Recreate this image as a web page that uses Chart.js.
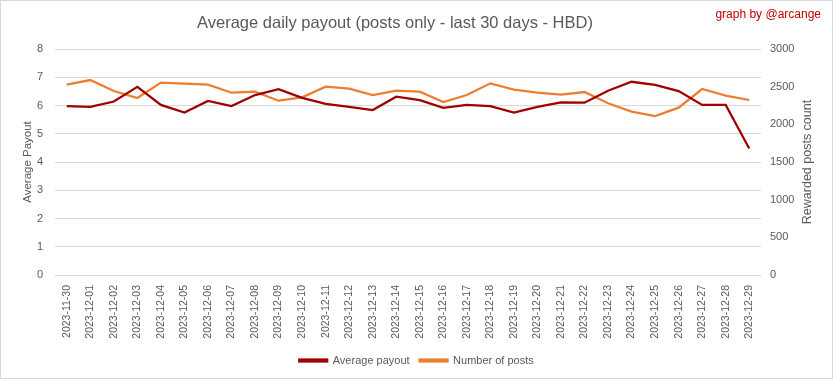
<!DOCTYPE html>
<html>
<head>
<meta charset="utf-8">
<script src="https://cdn.jsdelivr.net/npm/chart.js@4.4.1/dist/chart.umd.min.js"></script>
<style>
  html, body { margin: 0; padding: 0; background: #fff; }
  #wrap { width: 833px; height: 379px; }
</style>
</head>
<body>
<div id="wrap"><canvas id="payoutChart" width="833" height="379"></canvas></div>
<script>
// data
var days = ["2023-11-30","2023-12-01","2023-12-02","2023-12-03","2023-12-04","2023-12-05",
  "2023-12-06","2023-12-07","2023-12-08","2023-12-09","2023-12-10","2023-12-11","2023-12-12",
  "2023-12-13","2023-12-14","2023-12-15","2023-12-16","2023-12-17","2023-12-18","2023-12-19",
  "2023-12-20","2023-12-21","2023-12-22","2023-12-23","2023-12-24","2023-12-25","2023-12-26",
  "2023-12-27","2023-12-28","2023-12-29"];
var avgPayout = [5.98,5.95,6.14,6.66,6.02,5.75,6.16,5.98,6.37,6.58,6.27,6.06,5.95,5.84,6.31,
  6.19,5.92,6.02,5.98,5.75,5.95,6.11,6.10,6.52,6.84,6.73,6.51,6.02,6.02,4.48];
var postCount = [2526,2588,2442,2349,2553,2540,2526,2420,2433,2314,2358,2500,2473,2389,2447,
  2433,2296,2389,2544,2460,2420,2393,2429,2279,2168,2110,2221,2469,2380,2323];
var leftTicks = [0,1,2,3,4,5,6,7,8];
var rightTicks = [0,500,1000,1500,2000,2500,3000];

var grey = '#595959';
var fam = '"Liberation Sans", Arial, sans-serif';

// frame, titles and right axis title drawn on the canvas
var frame = {
  id: 'frame',
  beforeDraw: function(chart){
    var c = chart.ctx;
    c.save();
    c.fillStyle = '#fff';
    c.fillRect(0, 0, chart.width, chart.height);
    c.strokeStyle = '#d9d9d9';
    c.lineWidth = 1;
    c.strokeRect(0.5, 0.5, chart.width - 1, chart.height - 1);
    c.restore();
  },
  afterDraw: function(chart){
    var c = chart.ctx;
    c.save();
    c.textBaseline = 'middle';
    c.fillStyle = grey;
    c.font = '16.5px ' + fam;
    c.textAlign = 'center';
    c.fillText('Average daily payout (posts only - last 30 days - HBD)', 395, 23);
    c.fillStyle = '#c00000';
    c.font = '12px ' + fam;
    c.textAlign = 'right';
    c.fillText('graph by @arcange', 821, 15);
    // right axis title, reading bottom to top
    c.fillStyle = grey;
    c.font = '12.5px ' + fam;
    c.textAlign = 'center';
    c.translate(808, 162);
    c.rotate(-Math.PI / 2);
    c.fillText('Rewarded posts count', 0, 0);
    c.restore();
  }
};

var ctx = document.getElementById('payoutChart').getContext('2d');
var myChart = new Chart(ctx, {
  type: 'line',
  data: {
    labels: days,
    datasets: [{
      label: 'Average payout',
      data: avgPayout,
      yAxisID: 'y',
      borderColor: '#a00000',
      backgroundColor: '#a00000',
      borderWidth: 2.25,
      pointRadius: 0,
      tension: 0
    }, {
      label: 'Number of posts',
      data: postCount,
      yAxisID: 'y1',
      borderColor: '#ed7d31',
      backgroundColor: '#ed7d31',
      borderWidth: 2.25,
      pointRadius: 0,
      tension: 0
    }]
  },
  options: {
    responsive: false,
    animation: false,
    layout: { padding: { top: 49, bottom: 3, left: 0, right: 0 } },
    plugins: {
      legend: {
        position: 'bottom',
        labels: {
          boxWidth: 28, boxHeight: 2, padding: 10,
          color: grey,
          font: { family: fam, size: 11 }
        }
      },
      tooltip: { enabled: false }
    },
    scales: {
      x: {
        offset: true,
        grid: { display: false },
        border: { display: false },
        ticks: {
          minRotation: 90, maxRotation: 90, autoSkip: false, padding: 2,
          color: grey,
          font: { family: fam, size: 10.5 }
        },
        afterFit: function(s){ s.height = 70; }
      },
      y: {
        position: 'left',
        min: 0, max: 8,
        afterBuildTicks: function(s){ s.ticks = leftTicks.map(function(v){ return {value: v}; }); },
        grid: { color: '#d9d9d9', drawTicks: false },
        border: { display: false },
        ticks: {
          padding: 12, color: grey,
          font: { family: fam, size: 11 }
        },
        title: {
          display: true, text: 'Average Payout', color: grey,
          padding: { top: 21, bottom: 0 },
          font: { family: fam, size: 11.5 }
        },
        afterFit: function(s){ s.width = 55; }
      },
      y1: {
        position: 'right',
        min: 0, max: 3000,
        afterBuildTicks: function(s){ s.ticks = rightTicks.map(function(v){ return {value: v}; }); },
        grid: { display: false, drawTicks: false },
        border: { display: false },
        ticks: {
          padding: 9, color: grey,
          font: { family: fam, size: 11 },
          callback: function(v){ return String(v); }
        },
        afterFit: function(s){ s.width = 72; }
      }
    }
  },
  plugins: [frame]
});
</script>
</body>
</html>
